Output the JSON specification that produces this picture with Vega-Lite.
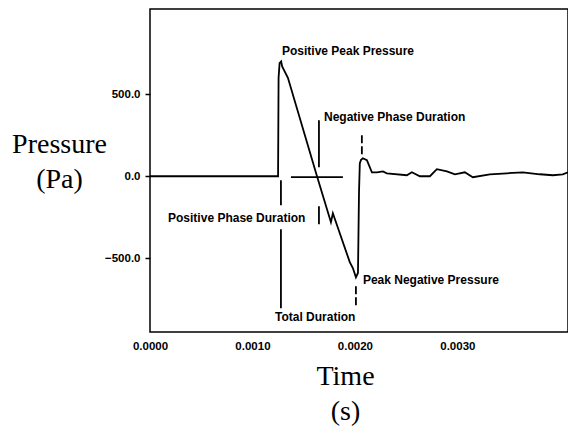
{
  "$schema": "https://vega.github.io/schema/vega-lite/v6.json",
  "autosize": "none",
  "width": 418,
  "height": 323,
  "padding": {"left": 150, "top": 9, "right": 0, "bottom": 101},
  "background": "white",
  "config": {
    "view": {"stroke": "black", "strokeWidth": 1.5},
    "axis": {"grid": false, "domain": false, "labelFont": "Liberation Sans", "labelFontWeight": "bold", "labelFontSize": 11.5, "labelColor": "black", "titleFont": "Liberation Serif", "titleFontWeight": "normal", "titleFontSize": 28, "titleColor": "black", "tickColor": "black"}
  },
  "datasets": {
    "trace": [
      {"t": 0, "p": 0}, {"t": 0.00125, "p": 0}, {"t": 0.001255, "p": 600}, {"t": 0.001265, "p": 690},
      {"t": 0.00128, "p": 700}, {"t": 0.00129, "p": 670}, {"t": 0.001346, "p": 600},
      {"t": 0.00163, "p": 0}, {"t": 0.001766, "p": -280}, {"t": 0.001785, "p": -226},
      {"t": 0.00195, "p": -524}, {"t": 0.00198, "p": -560}, {"t": 0.00201, "p": -616},
      {"t": 0.00203, "p": -590}, {"t": 0.00204, "p": -100}, {"t": 0.002048, "p": 80},
      {"t": 0.00206, "p": 100}, {"t": 0.002078, "p": 110}, {"t": 0.002117, "p": 98},
      {"t": 0.002166, "p": 24}, {"t": 0.002215, "p": 24}, {"t": 0.002273, "p": 30},
      {"t": 0.002312, "p": 18}, {"t": 0.002507, "p": 6}, {"t": 0.002556, "p": 24},
      {"t": 0.002634, "p": 0}, {"t": 0.002732, "p": 0}, {"t": 0.0028, "p": 43},
      {"t": 0.002898, "p": 30}, {"t": 0.002976, "p": 12}, {"t": 0.003073, "p": 24},
      {"t": 0.003151, "p": -6}, {"t": 0.003317, "p": 12}, {"t": 0.003483, "p": 18},
      {"t": 0.003639, "p": 24}, {"t": 0.003805, "p": 12}, {"t": 0.003932, "p": 6},
      {"t": 0.004029, "p": 12}, {"t": 0.00408, "p": 24}
    ],
    "solid": [
      {"t": 0.001649, "p": 341, "t2": 0.001649, "p2": 55},
      {"t": 0.001376, "p": -6, "t2": 0.001883, "p2": -6},
      {"t": 0.001278, "p": -24, "t2": 0.001278, "p2": -177},
      {"t": 0.001278, "p": -323, "t2": 0.001278, "p2": -805},
      {"t": 0.001649, "p": -183, "t2": 0.001649, "p2": -293}
    ],
    "dashed": [
      {"t": 0.002068, "p": 250, "t2": 0.002068, "p2": 128},
      {"t": 0.00201, "p": -671, "t2": 0.00201, "p2": -805}
    ],
    "labels": [
      {"t": 0.001288, "p": 762, "label": "Positive Peak Pressure"},
      {"t": 0.001698, "p": 360, "label": "Negative Phase Duration"},
      {"t": 0.000176, "p": -256, "label": "Positive Phase Duration"},
      {"t": 0.002078, "p": -634, "label": "Peak Negative Pressure"},
      {"t": 0.00122, "p": -860, "label": "Total Duration"}
    ]
  },
  "encoding": {
    "x": {"field": "t", "type": "quantitative",
      "scale": {"domain": [0, 0.00408], "nice": false, "zero": false},
      "axis": {"title": ["Time", "(s)"], "values": [0, 0.001, 0.002, 0.003], "format": ".4f", "ticks": false, "labelPadding": 8, "labelFlush": false, "titleX": 195, "titleY": 52, "titleAlign": "center", "titleBaseline": "alphabetic", "titleLineHeight": 35}},
    "y": {"field": "p", "type": "quantitative",
      "scale": {"domain": [-950, 1020], "nice": false, "zero": false},
      "axis": {"title": ["Pressure", "(Pa)"], "values": [-500, 0, 500], "format": ".1f", "tickSize": 5, "tickWidth": 1.5, "labelPadding": 5, "titleAngle": 0, "titleX": -91, "titleY": 143, "titleAlign": "center", "titleBaseline": "alphabetic", "titleLineHeight": 35}}
  },
  "layer": [
    {"data": {"name": "trace"}, "mark": {"type": "line", "color": "black", "strokeWidth": 1.8}},
    {"data": {"name": "solid"}, "mark": {"type": "rule", "color": "black", "strokeWidth": 1.8},
      "encoding": {"x2": {"field": "t2"}, "y2": {"field": "p2"}}},
    {"data": {"name": "dashed"}, "mark": {"type": "rule", "color": "black", "strokeWidth": 1.8, "strokeDash": [8, 3]},
      "encoding": {"x2": {"field": "t2"}, "y2": {"field": "p2"}}},
    {"data": {"name": "labels"}, "mark": {"type": "text", "align": "left", "baseline": "middle", "font": "Liberation Sans", "fontWeight": "bold", "fontSize": 12, "color": "black"},
      "encoding": {"text": {"field": "label"}}}
  ]
}
